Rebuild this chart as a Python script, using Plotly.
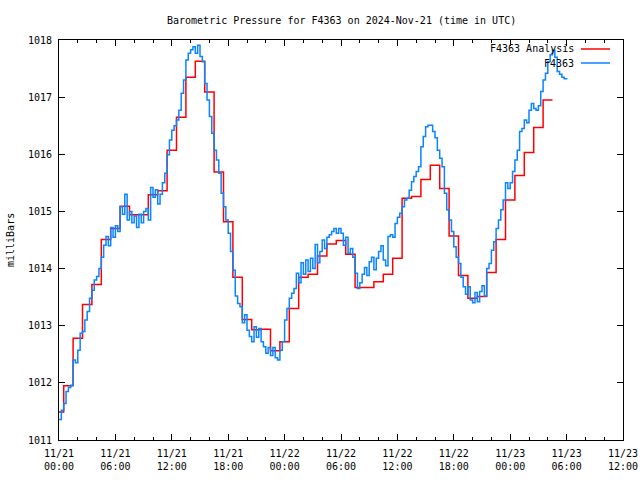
import pandas as pd
import plotly.graph_objects as go

title_text = "Barometric Pressure for F4363 on 2024-Nov-21 (time in UTC)"
y_title = "milliBars"
series_names = ["F4363 Analysis", "F4363"]

start_time = "2024-11-21 00:00"
end_time = "2024-11-23 12:00"

# Hourly analysis values (from 00:00)
analysis_values = [
    1011.49, 1011.95, 1012.78, 1013.37, 1013.72, 1014.51, 1014.70, 1015.09,
    1014.94, 1014.94, 1015.29, 1015.36, 1016.07, 1016.65, 1017.35, 1017.63,
    1017.09, 1015.69, 1014.82, 1013.85, 1013.11, 1012.93, 1012.94, 1012.56,
    1012.72, 1013.30, 1013.85, 1013.90, 1014.22, 1014.43, 1014.49, 1014.25,
    1013.67, 1013.67, 1013.77, 1013.90, 1014.18, 1015.23, 1015.26, 1015.56,
    1015.81, 1015.40, 1014.57, 1013.88, 1013.48, 1013.51, 1013.93, 1014.51,
    1015.20, 1015.63, 1016.03, 1016.47, 1016.95,
]

# Observations every 15 minutes (from 00:00)
obs_values = [
    1011.36, 1011.52, 1011.64, 1011.85,
    1011.92, 1011.96, 1012.40, 1012.35,
    1012.57, 1012.87, 1012.90, 1013.10,
    1013.25, 1013.48, 1013.62, 1013.80,
    1013.86, 1014.00, 1014.20, 1014.41,
    1014.56, 1014.40, 1014.72, 1014.55,
    1014.75, 1014.65, 1015.08, 1014.95,
    1015.30, 1014.85, 1015.00, 1014.80,
    1014.92, 1014.72, 1014.95, 1014.80,
    1015.00, 1015.05, 1014.85, 1015.42,
    1015.25, 1015.38, 1015.13, 1015.30,
    1015.50, 1015.67, 1015.99, 1016.25,
    1016.42, 1016.50, 1016.60, 1016.77,
    1017.07, 1017.30, 1017.65, 1017.77,
    1017.83, 1017.88, 1017.77, 1017.91,
    1017.71, 1017.62, 1017.24, 1016.95,
    1016.66, 1016.37, 1016.07, 1015.90,
    1015.67, 1015.32, 1015.08, 1014.85,
    1014.62, 1014.30, 1013.97, 1013.52,
    1013.39, 1013.33, 1013.05, 1013.19,
    1012.92, 1012.81, 1012.72, 1012.98,
    1012.80, 1012.95, 1012.72, 1012.63,
    1012.52, 1012.62, 1012.48, 1012.62,
    1012.44, 1012.40, 1012.57, 1012.72,
    1013.10, 1013.30, 1013.48, 1013.57,
    1013.65, 1013.92, 1013.75, 1014.10,
    1013.90, 1014.15, 1013.95, 1014.18,
    1014.00, 1014.42, 1014.10, 1014.30,
    1014.50, 1014.35, 1014.55, 1014.59,
    1014.65, 1014.70, 1014.62, 1014.70,
    1014.62, 1014.41, 1014.55, 1014.27,
    1014.35, 1014.20, 1013.92, 1013.65,
    1013.75, 1013.90, 1014.02, 1013.88,
    1014.12, 1014.20, 1013.98, 1014.18,
    1014.30, 1014.40, 1014.15, 1014.05,
    1014.56, 1014.59, 1014.55, 1014.79,
    1014.90, 1014.97, 1015.08, 1015.20,
    1015.23, 1015.37, 1015.52, 1015.61,
    1015.70, 1015.78, 1016.13, 1016.31,
    1016.48, 1016.51, 1016.51, 1016.40,
    1016.29, 1016.07, 1015.93, 1015.78,
    1015.32, 1015.03, 1014.85, 1014.65,
    1014.38, 1014.20, 1014.09, 1013.85,
    1013.68, 1013.55, 1013.68, 1013.45,
    1013.40, 1013.58, 1013.42, 1013.60,
    1013.70, 1013.52, 1014.00, 1014.09,
    1014.32, 1014.47, 1014.70, 1014.85,
    1015.03, 1015.20, 1015.50, 1015.40,
    1015.50, 1015.70, 1015.90, 1016.07,
    1016.40, 1016.45, 1016.60, 1016.55,
    1016.77, 1016.89, 1016.80, 1016.77,
    1016.85, 1017.10, 1017.30, 1017.42,
    1017.62, 1017.74, 1017.82, 1017.70,
    1017.45, 1017.40, 1017.35, 1017.32,
    1017.31,
]

tick_times = pd.date_range(start_time, end_time, freq="6h")
tick_labels = [t.strftime("%m/%d") + "<br>" + t.strftime("%H:%M") for t in tick_times]
y_ticks = [1011, 1012, 1013, 1014, 1015, 1016, 1017, 1018]

analysis_times = pd.date_range(start_time, periods=len(analysis_values), freq="h")
# histeps style: last step extends half an hour past its point
analysis_x = list(analysis_times) + [analysis_times[-1] + pd.Timedelta(minutes=30)]
analysis_y = analysis_values + [analysis_values[-1]]

obs_times = pd.date_range(start_time, periods=len(obs_values), freq="15min")

RED = "#ff0000"
BLUE = "#0a84ff"
FONT = "DejaVu Sans Mono"

fig = go.Figure()
fig.add_trace(go.Scatter(x=analysis_x, y=analysis_y, mode="lines",
                         line=dict(color=RED, width=1.5, shape="hvh"),
                         name=series_names[0], showlegend=False))
fig.add_trace(go.Scatter(x=obs_times, y=obs_values, mode="lines",
                         line=dict(color=BLUE, width=1.5, shape="hv"),
                         name=series_names[1], showlegend=False))

axis_common = dict(showline=True, linecolor="black", linewidth=1, mirror="allticks",
                   ticks="inside", tickcolor="black", showgrid=False, zeroline=False,
                   automargin=False,
                   tickfont=dict(family=FONT, size=10, color="black"))

fig.update_xaxes(range=[start_time, end_time], tickvals=tick_times, ticktext=tick_labels,
                 ticklen=6, tickwidth=1, ticklabelstandoff=4,
                 minor=dict(ticks="inside", dtick=2 * 3600 * 1000, ticklen=3,
                            tickcolor="black", showgrid=False),
                 **axis_common)
fig.update_yaxes(range=[1011, 1018], tickvals=y_ticks, ticklen=6, tickwidth=1,
                 ticklabelstandoff=4, **axis_common)

# gnuplot-style legend (text left of sample line)
legend_rows = [(series_names[0], RED, 49), (series_names[1], BLUE, 63)]
annotations = [
    dict(text=title_text, xref="paper", yref="paper", x=0.5, y=1, yshift=20,
         xanchor="center", yanchor="middle", showarrow=False,
         font=dict(family=FONT, size=10, color="black")),
    dict(text=y_title, xref="paper", yref="paper", x=0, y=0.5, xshift=-49,
         xanchor="center", yanchor="middle", textangle=-90, showarrow=False,
         font=dict(family=FONT, size=10, color="black")),
]
shapes = []
for name, color, ypx in legend_rows:
    yp = 1 - (ypx - 40) / 400
    annotations.append(dict(text=name, xref="paper", yref="paper",
                            x=(576 - 59) / 564, y=yp, xanchor="right", yanchor="middle",
                            showarrow=False, font=dict(family=FONT, size=10, color="black")))
    shapes.append(dict(type="line", xref="paper", yref="paper",
                       x0=(581 - 59) / 564, x1=(610 - 59) / 564, y0=yp, y1=yp,
                       line=dict(color=color, width=1.5)))

fig.update_layout(width=640, height=480, margin=dict(l=59, r=17, t=40, b=40),
                  paper_bgcolor="white", plot_bgcolor="white",
                  annotations=annotations, shapes=shapes,
                  font=dict(family=FONT, size=10, color="black"))

fig.write_html("out.html", config={"displayModeBar": False},
               post_script="document.body.style.margin='0';document.body.style.overflow='hidden';")
